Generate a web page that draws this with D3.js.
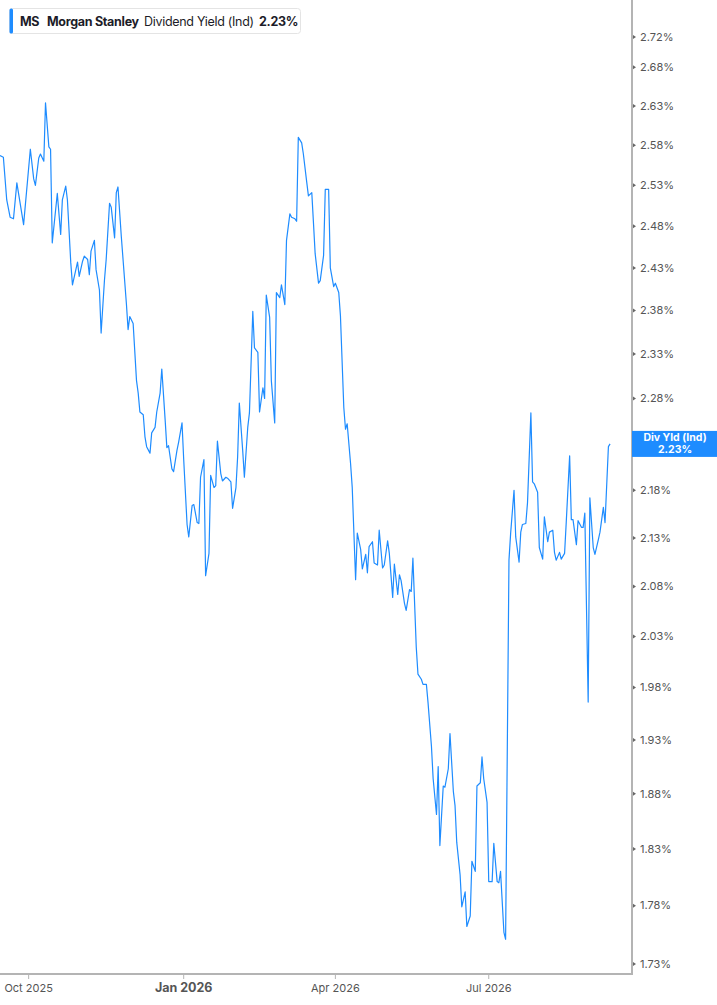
<!DOCTYPE html>
<html>
<head>
<meta charset="utf-8">
<script src="https://cdn.jsdelivr.net/npm/d3@7"></script>
<style>
  body { margin: 0; background: #fff; }
  svg { display: block; font-family: Inter, "Noto Sans", sans-serif; }
</style>
</head>
<body>
<div id="chart"></div>
<script>
// MS dividend yield (indicated)
const dates = [
  "2025-09-14","2025-09-16","2025-09-18","2025-09-20","2025-09-22","2025-09-24","2025-09-28",
  "2025-10-02","2025-10-04","2025-10-05","2025-10-07","2025-10-08","2025-10-10","2025-10-11","2025-10-13","2025-10-14","2025-10-15","2025-10-18","2025-10-20","2025-10-21","2025-10-23","2025-10-24","2025-10-26","2025-10-27","2025-10-30","2025-10-31",
  "2025-11-02","2025-11-03","2025-11-05","2025-11-06","2025-11-07","2025-11-09","2025-11-10","2025-11-12","2025-11-13","2025-11-15","2025-11-16","2025-11-18","2025-11-19","2025-11-21","2025-11-22","2025-11-23","2025-11-25","2025-11-28","2025-11-29","2025-11-30",
  "2025-12-02","2025-12-04","2025-12-05","2025-12-06","2025-12-08","2025-12-09","2025-12-10","2025-12-12","2025-12-13","2025-12-15","2025-12-16","2025-12-18","2025-12-19","2025-12-21","2025-12-22","2025-12-23","2025-12-25","2025-12-26","2025-12-28","2025-12-29","2025-12-31",
  "2026-01-01","2026-01-03","2026-01-04","2026-01-06","2026-01-07","2026-01-09","2026-01-10","2026-01-11","2026-01-13","2026-01-14","2026-01-16","2026-01-17","2026-01-19","2026-01-20","2026-01-21","2026-01-23","2026-01-24","2026-01-26","2026-01-27","2026-01-29","2026-01-30",
  "2026-02-01","2026-02-02","2026-02-03","2026-02-05","2026-02-06","2026-02-08","2026-02-09","2026-02-11","2026-02-12","2026-02-14","2026-02-15","2026-02-17","2026-02-18","2026-02-19","2026-02-21","2026-02-22","2026-02-24","2026-02-25","2026-02-27","2026-02-28",
  "2026-03-02","2026-03-03","2026-03-05","2026-03-06","2026-03-08","2026-03-09","2026-03-10","2026-03-12","2026-03-13","2026-03-15","2026-03-16","2026-03-18","2026-03-19","2026-03-20","2026-03-22","2026-03-23","2026-03-25","2026-03-26","2026-03-28","2026-03-29","2026-03-31",
  "2026-04-01","2026-04-03","2026-04-04","2026-04-06","2026-04-07","2026-04-08","2026-04-10","2026-04-11","2026-04-13","2026-04-14","2026-04-16","2026-04-17","2026-04-19","2026-04-20","2026-04-21","2026-04-23","2026-04-24","2026-04-26","2026-04-27","2026-04-29","2026-04-30",
  "2026-05-02","2026-05-03","2026-05-05","2026-05-06","2026-05-08","2026-05-09","2026-05-10","2026-05-12","2026-05-13","2026-05-15","2026-05-16","2026-05-17","2026-05-19","2026-05-20","2026-05-22","2026-05-23","2026-05-25","2026-05-26","2026-05-28","2026-05-29","2026-05-31",
  "2026-06-01","2026-06-02","2026-06-04","2026-06-05","2026-06-07","2026-06-08","2026-06-10","2026-06-11","2026-06-12","2026-06-14","2026-06-15","2026-06-17","2026-06-18","2026-06-20","2026-06-21","2026-06-23","2026-06-24","2026-06-26","2026-06-27","2026-06-28","2026-06-30",
  "2026-07-01","2026-07-03","2026-07-04","2026-07-06","2026-07-07","2026-07-08","2026-07-10","2026-07-11","2026-07-13","2026-07-14","2026-07-16","2026-07-17","2026-07-19","2026-07-20","2026-07-21","2026-07-23","2026-07-24","2026-07-26","2026-07-27","2026-07-28","2026-07-30","2026-07-31",
  "2026-08-02","2026-08-03","2026-08-05","2026-08-06","2026-08-08","2026-08-09","2026-08-10","2026-08-12","2026-08-13","2026-08-15","2026-08-16","2026-08-18","2026-08-19","2026-08-20","2026-08-22","2026-08-23","2026-08-25","2026-08-26","2026-08-27","2026-08-29","2026-08-30",
  "2026-09-01","2026-09-02","2026-09-04","2026-09-05","2026-09-07","2026-09-08","2026-09-10","2026-09-11"
];
const yields = [
  2.567,2.565,2.512,2.491,2.489,2.533,2.482,
  2.575,2.538,2.530,2.564,2.569,2.560,2.634,2.578,2.575,2.460,2.520,2.470,2.512,2.529,2.512,2.436,2.410,2.437,2.420,
  2.438,2.444,2.440,2.422,2.450,2.463,2.428,2.404,2.354,2.416,2.440,2.508,2.503,2.466,2.521,2.528,2.467,2.388,2.358,2.373,
  2.365,2.300,2.286,2.265,2.262,2.238,2.227,2.220,2.242,2.248,2.265,2.286,2.313,2.256,2.226,2.228,2.203,2.200,2.223,2.232,2.253,
  2.213,2.144,2.131,2.164,2.165,2.146,2.145,2.194,2.213,2.091,2.114,2.196,2.183,2.185,2.233,2.198,2.190,2.194,2.193,2.189,2.161,
  2.183,2.216,2.275,2.223,2.194,2.248,2.264,2.379,2.337,2.332,2.265,2.292,2.280,2.398,2.372,2.300,2.253,2.401,2.395,2.410,
  2.387,2.463,2.495,2.491,2.489,2.486,2.590,2.583,2.569,2.534,2.517,2.521,2.484,2.447,2.412,2.415,2.445,2.525,2.525,2.430,2.408,
  2.412,2.401,2.374,2.270,2.246,2.252,2.209,2.183,2.087,2.135,2.118,2.098,2.113,2.094,2.121,2.126,2.104,2.102,2.138,2.099,2.102,
  2.127,2.114,2.069,2.103,2.072,2.092,2.086,2.063,2.056,2.077,2.075,2.109,2.019,1.993,1.988,1.983,1.983,1.965,1.924,1.894,1.861,
  1.905,1.833,1.887,1.886,1.903,1.936,1.882,1.869,1.836,1.807,1.779,1.792,1.762,1.771,1.819,1.810,1.887,1.890,1.914,1.894,1.872,
  1.801,1.801,1.835,1.801,1.800,1.810,1.757,1.751,2.107,2.135,2.180,2.131,2.105,2.136,2.144,2.145,2.167,2.264,2.189,2.187,2.178,2.120,
  2.108,2.152,2.126,2.136,2.138,2.115,2.107,2.115,2.108,2.114,2.147,2.217,2.149,2.149,2.123,2.148,2.141,2.141,2.156,1.966,2.172,
  2.120,2.113,2.128,2.136,2.162,2.146,2.227,2.230
];

const yTicks = [1.73, 1.78, 1.83, 1.88, 1.93, 1.98, 2.03, 2.08, 2.13, 2.18, 2.23, 2.28, 2.33, 2.38, 2.43, 2.48, 2.53, 2.58, 2.63, 2.68, 2.72];
const xTicks = ["2025-10-01", "2026-01-01", "2026-04-01", "2026-07-01"];
const xTickLabels = ["Oct 2025", "Jan 2026", "Apr 2026", "Jul 2026"];
const xDomain = ["2025-09-14", "2026-09-24"];

const ticker = "MS", company = "Morgan Stanley", metric = "Dividend Yield (Ind)";
const lastLabel = "Div Yld (Ind)";

const W = 717, H = 1005;
const plotRight = 632, plotBottom = 974;
const blue = "#1e8cff", axisGrey = "#b4b4b4", textGrey = "#555";

const parse = d3.timeParse("%Y-%m-%d");
const data = dates.map((d, i) => ({ date: parse(d), value: yields[i] }));

const svg = d3.select("#chart").append("svg")
    .attr("width", W)
    .attr("height", H);

const x = d3.scaleTime()
    .domain(xDomain.map(parse))
    .range([0, plotRight]);

const y = d3.scaleLog()
    .domain([1.73, 2.72])
    .range([964, 37]);

// line
const line = d3.line()
    .x(d => x(d.date))
    .y(d => y(d.value));

svg.append("path")
    .datum(data)
    .attr("fill", "none")
    .attr("stroke", blue)
    .attr("stroke-width", 1.2)
    .attr("stroke-linejoin", "round")
    .attr("d", line);

// right axis
svg.append("line")
    .attr("x1", plotRight).attr("x2", plotRight)
    .attr("y1", 0).attr("y2", plotBottom)
    .attr("stroke", axisGrey).attr("stroke-width", 2);

const last = data[data.length - 1];
const flagY = y(last.value);

// tick labels hidden behind the last-value flag are skipped
const yAxis = svg.append("g");
yAxis.selectAll("path.tk")
    .data(yTicks)
    .enter().append("path")
    .attr("d", d => `M${plotRight + 1},${y(d) - 2}L${plotRight + 4},${y(d)}L${plotRight + 1},${y(d) + 2}Z`)
    .attr("fill", "#666");
yAxis.selectAll("text")
    .data(yTicks.filter(d => Math.abs(y(d) - flagY) > 14))
    .enter().append("text")
    .attr("x", 640)
    .attr("y", d => y(d))
    .attr("dy", "0.35em")
    .attr("fill", textGrey)
    .style("font-size", "11px")
    .text(d => d.toFixed(2) + "%");

// bottom axis
svg.append("line")
    .attr("x1", 0).attr("x2", plotRight + 1)
    .attr("y1", plotBottom).attr("y2", plotBottom)
    .attr("stroke", axisGrey).attr("stroke-width", 2);

const xAxis = svg.append("g");
xAxis.selectAll("line")
    .data(xTicks)
    .enter().append("line")
    .attr("x1", d => x(parse(d))).attr("x2", d => x(parse(d)))
    .attr("y1", plotBottom).attr("y2", plotBottom + 5)
    .attr("stroke", axisGrey).attr("stroke-width", 1);
xAxis.selectAll("text")
    .data(xTicks)
    .enter().append("text")
    .attr("x", d => x(parse(d)))
    .attr("y", 992)
    .attr("text-anchor", "middle")
    .attr("fill", textGrey)
    .style("font-size", (d, i) => xTickLabels[i].startsWith("Jan") ? "12.5px" : "11px")
    .style("font-weight", (d, i) => xTickLabels[i].startsWith("Jan") ? 700 : 400)
    .text((d, i) => xTickLabels[i]);

// last value flag
svg.append("rect")
    .attr("x", plotRight)
    .attr("y", flagY - 13)
    .attr("width", W - plotRight)
    .attr("height", 26)
    .attr("fill", blue);
svg.append("text")
    .attr("x", 675).attr("y", flagY - 2.5)
    .attr("text-anchor", "middle")
    .attr("fill", "#fff")
    .style("font-size", "10.5px").style("font-weight", 700)
    .text(lastLabel);
svg.append("text")
    .attr("x", 675).attr("y", flagY + 9)
    .attr("text-anchor", "middle")
    .attr("fill", "#fff")
    .style("font-size", "10.5px").style("font-weight", 700)
    .text(last.value.toFixed(2) + "%");

// legend
const legend = svg.append("g");
legend.append("rect")
    .attr("x", 9.5).attr("y", 8.5)
    .attr("width", 291).attr("height", 25)
    .attr("rx", 3)
    .attr("fill", "#fff")
    .attr("stroke", "#e4e4e4");
legend.append("rect")
    .attr("x", 9.5).attr("y", 8.5)
    .attr("width", 3.5).attr("height", 25)
    .attr("rx", 1.5)
    .attr("fill", blue);
const legText = legend.append("text")
    .attr("y", 26)
    .attr("fill", "#1c1c28")
    .style("font-size", "12.5px")
    .style("letter-spacing", "-0.3px");
legText.append("tspan").attr("x", 20).style("font-weight", 700).text(ticker);
legText.append("tspan").attr("x", 47).style("font-weight", 700).text(company);
legText.append("tspan").attr("x", 144).style("font-weight", 400).text(metric);
legText.append("tspan").attr("x", 259).style("font-weight", 700).text(last.value.toFixed(2) + "%");
</script>
</body>
</html>
